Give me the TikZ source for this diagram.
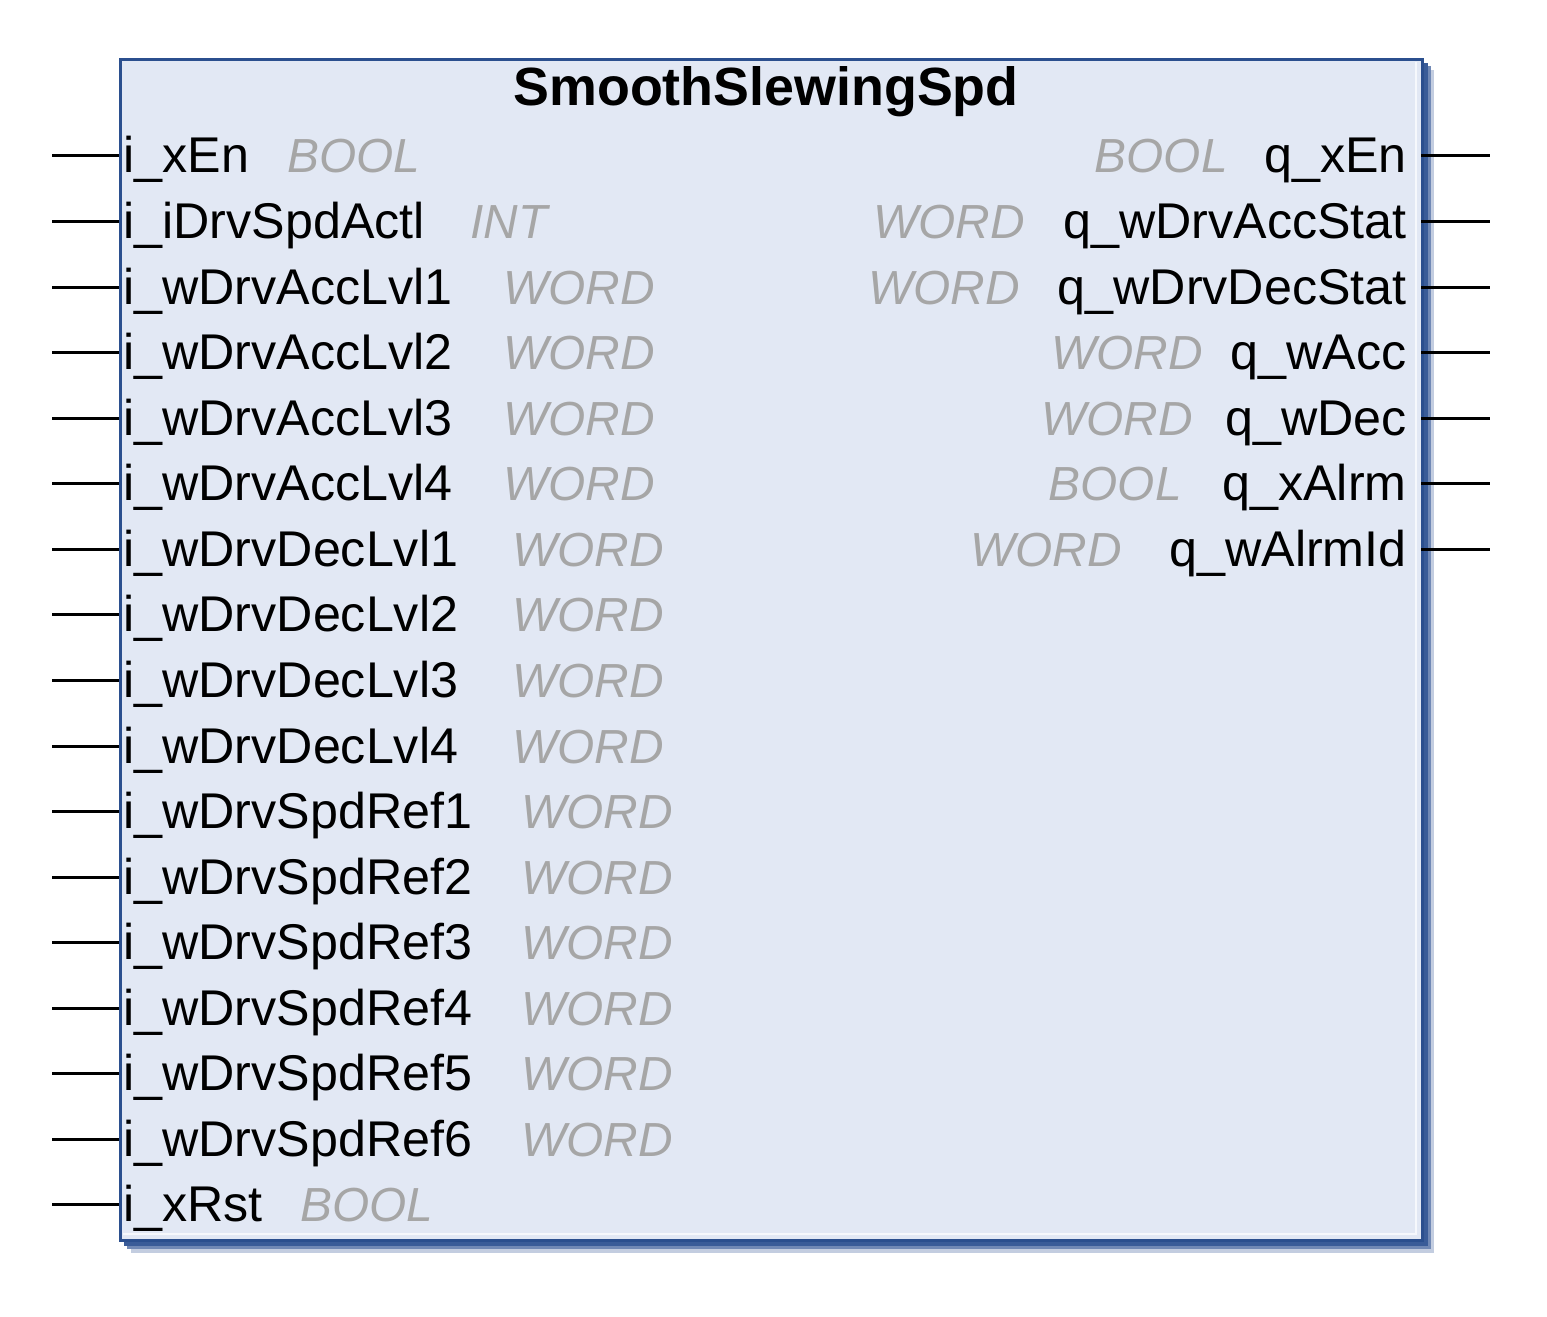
\documentclass[tikz,border=0pt]{standalone}
\usepackage{fontspec}
\setmainfont{Liberation Sans}
\definecolor{boxfill}{HTML}{E2E8F4}
\definecolor{boxline}{HTML}{2B4F8E}
\definecolor{shadowA}{HTML}{3A5C98}
\definecolor{shadowM}{HTML}{7189B5}
\definecolor{shadowB}{HTML}{C3CDE0}
\definecolor{typegray}{HTML}{A6A6A6}
\tikzset{
  pinlabel/.style={inner sep=0pt, font=\fontsize{25.2}{29}\selectfont, text=black},
  typelabel/.style={inner sep=0pt, font=\fontsize{24}{28}\selectfont\itshape, text=typegray},
  pinline/.style={line width=1.5bp, black},
}
\begin{document}
\begin{tikzpicture}[x=0.5bp, y=-0.5bp]
\useasboundingbox (0,0) rectangle (1547,1317);
% shadow
\fill[shadowB] (131,70) rectangle (1434,1253);
\fill[shadowM] (127,66) rectangle (1431,1249);
\fill[shadowA] (124,63) rectangle (1428,1246);
% block
\node[draw=boxline, line width=1.5bp, fill=boxfill, inner sep=0pt, minimum width=1302bp/2, minimum height=1181bp/2, anchor=north west] (fb) at (119,58) {};
\draw[white!70!boxfill, line width=1bp] (123,1234) -- (1416,1234) -- (1416,62);
\node[inner sep=0pt, font=\fontsize{27}{31}\selectfont\bfseries, anchor=base] (title) at (766,106) {SmoothSlewingSpd};
% inputs
\foreach \i/\nm/\ty/\tx in {
  1/i\_xEn/BOOL/287,
  2/i\_iDrvSpdActl/INT/470,
  3/i\_wDrvAccLvl1/WORD/503,
  4/i\_wDrvAccLvl2/WORD/503,
  5/i\_wDrvAccLvl3/WORD/503,
  6/i\_wDrvAccLvl4/WORD/503,
  7/i\_wDrvDecLvl1/WORD/512,
  8/i\_wDrvDecLvl2/WORD/512,
  9/i\_wDrvDecLvl3/WORD/512,
  10/i\_wDrvDecLvl4/WORD/512,
  11/i\_wDrvSpdRef1/WORD/521,
  12/i\_wDrvSpdRef2/WORD/521,
  13/i\_wDrvSpdRef3/WORD/521,
  14/i\_wDrvSpdRef4/WORD/521,
  15/i\_wDrvSpdRef5/WORD/521,
  16/i\_wDrvSpdRef6/WORD/521,
  17/i\_xRst/BOOL/300} {
  \pgfmathsetmacro{\yy}{156+(\i-1)*65.56}
  \coordinate (in\i) at (52,\yy);
  \coordinate (inb\i) at (119,\yy);
  \draw[pinline] (in\i) -- (inb\i);
  \node[pinlabel, anchor=base west] (inl\i) at (123,\yy+17) {\nm};
  \node[typelabel, anchor=base west] (int\i) at (\tx,\yy+17) {\ty};
}
% outputs
\foreach \i/\nm/\ty/\tx in {
  1/q\_xEn/BOOL/1228,
  2/q\_wDrvAccStat/WORD/1025,
  3/q\_wDrvDecStat/WORD/1020,
  4/q\_wAcc/WORD/1203,
  5/q\_wDec/WORD/1193,
  6/q\_xAlrm/BOOL/1182,
  7/q\_wAlrmId/WORD/1122} {
  \pgfmathsetmacro{\yy}{156+(\i-1)*65.56}
  \coordinate (outb\i) at (1421,\yy);
  \coordinate (out\i) at (1490,\yy);
  \draw[pinline] (outb\i) -- (out\i);
  \node[pinlabel, anchor=base east] (outl\i) at (1407,\yy+17) {\nm};
  \node[typelabel, anchor=base east] (outt\i) at (\tx,\yy+17) {\ty};
}
\end{tikzpicture}
\end{document}
